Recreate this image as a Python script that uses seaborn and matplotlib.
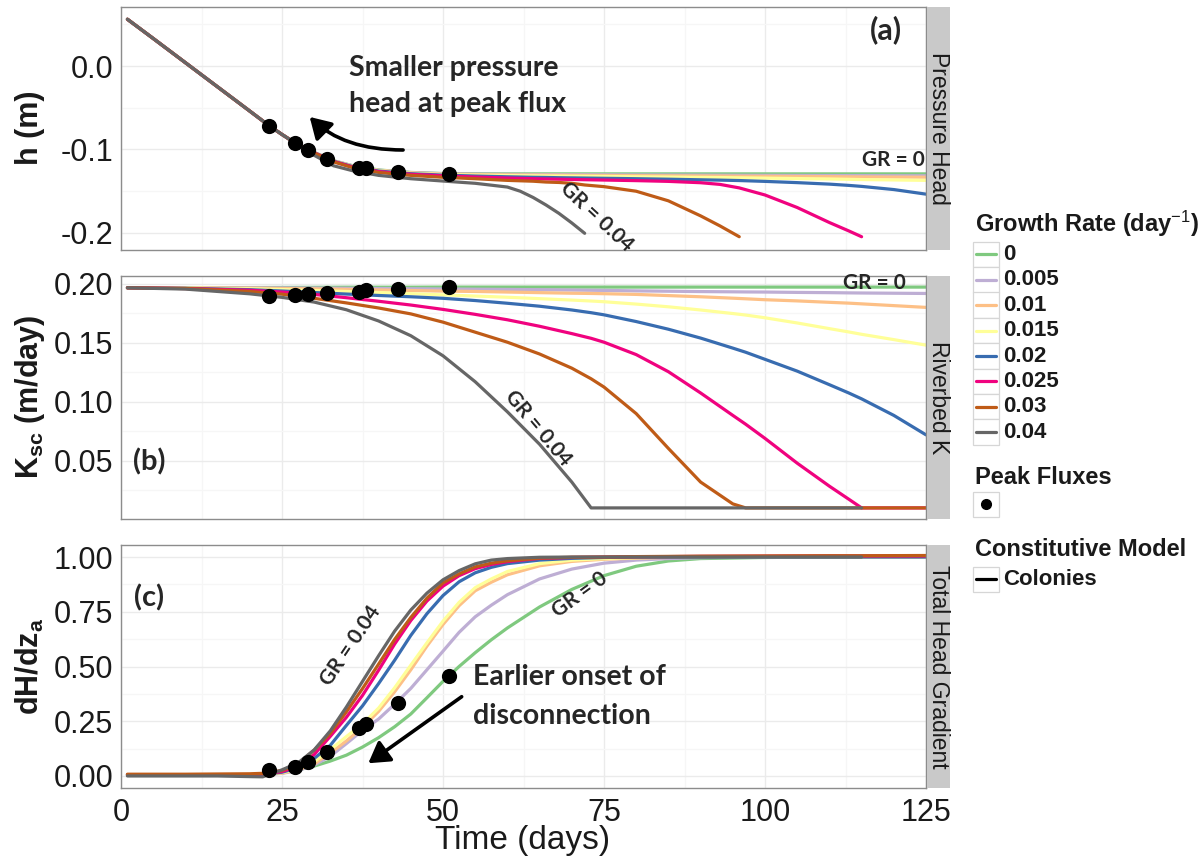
import numpy as np
import pandas as pd
import matplotlib
matplotlib.use("Agg")
import matplotlib.pyplot as plt
import seaborn as sns
from matplotlib.patches import FancyArrowPatch, Rectangle
from matplotlib.path import Path
from matplotlib.lines import Line2D
from matplotlib.ticker import FormatStrFormatter

# ---------------------------------------------------------------- data
GROWTH_RATES = ["0", "0.005", "0.01", "0.015", "0.02", "0.025", "0.03", "0.04"]
GR_COLORS = ["#7FC97F", "#BEAED4", "#FDC086", "#FFFF99",
             "#386CB0", "#F0027F", "#BF5B17", "#666666"]
NAN = np.nan

# (a) pressure head h (m)
T_A = [1, 5, 10, 15, 20, 23, 25, 27, 30, 33, 36, 40, 45, 50, 55, 60, 62, 64,
       66, 68, 70, 72, 75, 80, 85, 90, 93, 96, 100, 105, 110, 113, 115, 120, 125]
H_START = [0.056, 0.033, 0.004, -0.025, -0.054, -0.0715, -0.082, -0.092]
H_0 = H_START + [-0.1035, -0.1135, -0.1195, -0.1245, -0.1275, -0.1288, -0.1291] + [-0.1292] * 20
H_0005 = H_START + [-0.1035, -0.1135, -0.1197, -0.1248, -0.1277, -0.129, -0.1295, -0.1298,
                    -0.1299, -0.13, -0.13, -0.1301, -0.1302, -0.1302, -0.1303, -0.1305,
                    -0.1306, -0.1307, -0.1308, -0.1309, -0.131, -0.1311, -0.1312, -0.1313,
                    -0.1313, -0.1314, -0.1315]
H_001 = H_START + [-0.1035, -0.1137, -0.12, -0.125, -0.128, -0.1295, -0.13, -0.1304,
                   -0.1305, -0.1306, -0.1307, -0.1308, -0.1309, -0.131, -0.1311, -0.1313,
                   -0.1315, -0.1317, -0.1318, -0.132, -0.1321, -0.1323, -0.1325, -0.1327,
                   -0.1328, -0.133, -0.1332]
H_0015 = H_START + [-0.1037, -0.1138, -0.1202, -0.1253, -0.1284, -0.13, -0.1307, -0.1312,
                    -0.1314, -0.1315, -0.1317, -0.1318, -0.132, -0.1321, -0.1323, -0.1327,
                    -0.133, -0.1334, -0.1336, -0.1339, -0.1343, -0.1348, -0.1353, -0.1357,
                    -0.136, -0.1365, -0.137]
H_002 = H_START + [-0.1038, -0.114, -0.1205, -0.1258, -0.129, -0.1307, -0.1318, -0.1327,
                   -0.133, -0.1333, -0.1335, -0.1338, -0.134, -0.1342, -0.1345, -0.135,
                   -0.1356, -0.1363, -0.1367, -0.1372, -0.1382, -0.1397, -0.1415, -0.143,
                   -0.1442, -0.148, -0.1535]
H_0025 = H_START + [-0.104, -0.1143, -0.121, -0.1265, -0.1297, -0.1315, -0.133, -0.1342,
                    -0.1346, -0.135, -0.1353, -0.1356, -0.1359, -0.1362, -0.1366, -0.1373,
                    -0.1382, -0.1398, -0.1418, -0.146, -0.1545, -0.1695, -0.1875, -0.1975,
                    -0.2045, NAN, NAN]
H_003 = H_START + [-0.1043, -0.1148, -0.1218, -0.1275, -0.131, -0.1333, -0.135, -0.137,
                   -0.1375, -0.138, -0.139, -0.1395, -0.1405, -0.1425, -0.1445, -0.150,
                   -0.1615, -0.1795, -0.1915, -0.2045] + [NAN] * 7
H_004 = H_START + [-0.107, -0.1195, -0.1255, -0.131, -0.135, -0.1378, -0.1405, -0.145,
                   -0.150, -0.1575, -0.1665, -0.1765, -0.188, -0.2004] + [NAN] * 13

# (b) riverbed hydraulic conductivity K_sc (m/day)
T_B = [1, 10, 20, 25, 30, 35, 40, 45, 50, 55, 60, 65, 70, 73, 75, 80, 85, 90,
       95, 97, 100, 105, 110, 113, 115, 120, 125]
K_0 = [0.1966, 0.1967, 0.1968, 0.1969, 0.197, 0.1971, 0.1971, 0.1971] + [0.1972] * 19
K_0005 = [0.1966, 0.1966, 0.1966, 0.1965, 0.1964, 0.1962, 0.196, 0.1958, 0.1956, 0.1954,
          0.1952, 0.195, 0.1947, 0.1945, 0.1944, 0.194, 0.1937, 0.1934, 0.1932, 0.1931,
          0.193, 0.1927, 0.1925, 0.1923, 0.1922, 0.192, 0.1918]
K_001 = [0.1966, 0.1966, 0.1963, 0.196, 0.1957, 0.1953, 0.1948, 0.1943, 0.1938, 0.1935,
         0.193, 0.1925, 0.192, 0.1918, 0.1916, 0.191, 0.190, 0.189, 0.1878, 0.1873,
         0.1865, 0.1855, 0.1843, 0.1836, 0.183, 0.1815, 0.180]
K_0015 = [0.1966, 0.1964, 0.1958, 0.1951, 0.1943, 0.1935, 0.1926, 0.1916, 0.1906, 0.1896,
          0.1886, 0.1874, 0.1862, 0.1854, 0.1848, 0.1828, 0.1805, 0.1778, 0.1748, 0.1735,
          0.1712, 0.1668, 0.162, 0.1592, 0.1572, 0.1527, 0.148]
K_002 = [0.1966, 0.1962, 0.195, 0.1939, 0.1926, 0.1913, 0.1901, 0.189, 0.1877, 0.1858,
         0.1835, 0.181, 0.1778, 0.1755, 0.1737, 0.168, 0.1615, 0.154, 0.1455, 0.142,
         0.136, 0.126, 0.1145, 0.1075, 0.1025, 0.0885, 0.072]
K_0025 = [0.1966, 0.196, 0.1945, 0.193, 0.191, 0.1882, 0.1852, 0.182, 0.1783, 0.1741,
          0.1695, 0.164, 0.1578, 0.1538, 0.1505, 0.140, 0.1255, 0.1075, 0.0885, 0.081,
          0.069, 0.048, 0.0285, 0.0175, 0.0101, 0.0101, 0.0101]
K_003 = [0.1966, 0.196, 0.1935, 0.1912, 0.1877, 0.1838, 0.1795, 0.1745, 0.1675, 0.159,
         0.1505, 0.1405, 0.1285, 0.1195, 0.1125, 0.090, 0.0605, 0.032, 0.0135, 0.0101] + [0.0101] * 7
K_004 = [0.1966, 0.1955, 0.1915, 0.1885, 0.1845, 0.178, 0.1685, 0.156, 0.139, 0.117,
         0.0915, 0.064, 0.032, 0.0101] + [0.0101] * 11 + [NAN, NAN]

# (c) total head gradient dH/dz_a
T_C = [1, 10, 15, 20, 22, 25, 27.5, 30, 32.5, 35, 37.5, 40, 42.5, 45, 47.5, 50, 52.5,
       55, 57.5, 60, 65, 70, 75, 80, 85, 90, 100, 110, 115, 125]
G_0 = [0.005, 0.005, 0.005, 0.006, 0.008, 0.015, 0.028, 0.045, 0.068, 0.095, 0.132,
       0.175, 0.225, 0.283, 0.357, 0.432, 0.5, 0.563, 0.622, 0.676, 0.772, 0.852, 0.915,
       0.958, 0.982, 0.993, 0.998, 1.0, 1.0, 1.0]
G_0005 = [0.005, 0.005, 0.005, 0.005, 0.006, 0.012, 0.025, 0.05, 0.09, 0.148, 0.208,
          0.26, 0.328, 0.4, 0.485, 0.57, 0.656, 0.727, 0.78, 0.828, 0.9, 0.945, 0.972,
          0.986, 0.993, 0.997, 1.0, 1.0, 1.0, 1.0]
G_001 = [0.005, 0.005, 0.005, 0.005, 0.006, 0.013, 0.028, 0.055, 0.105, 0.16, 0.222,
         0.295, 0.385, 0.485, 0.593, 0.692, 0.778, 0.846, 0.885, 0.919, 0.96, 0.98,
         0.99, 0.995, 0.998, 1.0, 1.0, 1.0, 1.0, 1.0]
G_0015 = [0.005, 0.005, 0.005, 0.005, 0.006, 0.015, 0.032, 0.065, 0.12, 0.18, 0.237,
          0.31, 0.403, 0.506, 0.608, 0.707, 0.793, 0.86, 0.9, 0.934, 0.97, 0.986,
          0.993, 0.997, 0.999, 1.0, 1.0, 1.0, 1.0, 1.0]
G_002 = [0.005, 0.005, 0.005, 0.005, 0.007, 0.017, 0.038, 0.08, 0.14, 0.231, 0.32,
         0.422, 0.529, 0.642, 0.741, 0.824, 0.887, 0.928, 0.953, 0.97, 0.986, 0.994,
         0.998, 1.0, 1.0, 1.0, 1.0, 1.0, 1.0, 1.0]
G_0025 = [0.005, 0.005, 0.005, 0.006, 0.008, 0.02, 0.045, 0.098, 0.181, 0.268, 0.368,
          0.483, 0.603, 0.71, 0.799, 0.867, 0.915, 0.947, 0.966, 0.979, 0.994, 0.998,
          1.0, 1.001, 1.002, 1.003, 1.004, 1.005, 1.005, 1.005]
G_003 = [0.008, 0.008, 0.009, 0.01, 0.012, 0.025, 0.055, 0.118, 0.195, 0.293, 0.399,
         0.511, 0.624, 0.724, 0.812, 0.882, 0.923, 0.955, 0.972, 0.983, 0.995, 0.999,
         1.0, 1.002, 1.003, 1.004, 1.005, 1.006, 1.006, 1.007]
G_004 = [0.0, 0.0, 0.0, -0.003, -0.004, 0.028, 0.06, 0.119, 0.206, 0.315, 0.432,
         0.549, 0.662, 0.758, 0.835, 0.896, 0.938, 0.969, 0.986, 0.993, 0.999, 1.0,
         1.0, 1.0, 1.0, 1.0, 1.0, 1.0, 1.0, NAN]

# peak-flux markers (one per growth rate, 0.04 ... 0)
PEAK_T = [23, 27, 29, 32, 37, 38, 43, 51]
PEAK_H = [-0.0715, -0.092, -0.1006, -0.1118, -0.1218, -0.1226, -0.1266, -0.1288]
PEAK_K = [0.1893, 0.1906, 0.1916, 0.1924, 0.1932, 0.1948, 0.1958, 0.1972]
PEAK_G = [0.027, 0.040, 0.065, 0.111, 0.218, 0.237, 0.333, 0.458]

PANEL_STRIPS = ["Pressure Head", "Riverbed K", "Total Head Gradient"]
X_TICKS = [0, 25, 50, 75, 100, 125]


def long_frame(times, series):
    rows = []
    for gr, vals in zip(GROWTH_RATES, series):
        for t, v in zip(times, vals):
            if not np.isnan(v):
                rows.append((t, v, gr))
    return pd.DataFrame(rows, columns=["time", "value", "gr"])


DF_A = long_frame(T_A, [H_0, H_0005, H_001, H_0015, H_002, H_0025, H_003, H_004])
DF_B = long_frame(T_B, [K_0, K_0005, K_001, K_0015, K_002, K_0025, K_003, K_004])
DF_C = long_frame(T_C, [G_0, G_0005, G_001, G_0015, G_002, G_0025, G_003, G_004])

# ---------------------------------------------------------------- style
sns.set_style("white")
plt.rcParams["font.family"] = ["Liberation Sans", "DejaVu Sans"]
plt.rcParams["axes.unicode_minus"] = False
plt.rcParams["mathtext.fontset"] = "custom"
plt.rcParams["mathtext.rm"] = "Liberation Sans"
plt.rcParams["mathtext.bf"] = "Liberation Sans:bold"
plt.rcParams["mathtext.it"] = "Liberation Sans:italic"
plt.rcParams["lines.solid_joinstyle"] = "round"

W, H = 1198, 860
fig = plt.figure(figsize=(W / 100, H / 100), dpi=100)
fig.patch.set_facecolor("white")


def rect(l, t, r, b):
    return [l / W, 1 - b / H, (r - l) / W, (b - t) / H]


def fx(x):
    return x / W


def fy(y):
    return 1 - y / H


ANNOT_FONT = ["Lato", "DejaVu Sans"]
TEXT_COLOR = "#1A1A1A"

panel_boxes = [(7, 250), (276, 519), (545, 788)]
ylims = [(-0.2204, 0.0707), (0.0007, 0.2066), (-0.055, 1.055)]
yticks = [[-0.2, -0.1, 0.0], [0.05, 0.10, 0.15, 0.20], [0.0, 0.25, 0.5, 0.75, 1.0]]
ymins = [[-0.15, -0.05, 0.05], [0.025, 0.075, 0.125, 0.175], [0.125, 0.375, 0.625, 0.875]]
yfmt = ["%.1f", "%.2f", "%.2f"]
frames = [DF_A, DF_B, DF_C]
peaks = [PEAK_H, PEAK_K, PEAK_G]

axes = []
for i, (top, bot) in enumerate(panel_boxes):
    ax = fig.add_axes(rect(121, top, 926, bot))
    sns.lineplot(data=frames[i], x="time", y="value", hue="gr", hue_order=GROWTH_RATES,
                 palette=GR_COLORS, estimator=None, sort=False, lw=2.3,
                 legend=False, ax=ax)
    sns.scatterplot(x=PEAK_T, y=peaks[i], color="black", s=120, linewidth=0,
                    legend=False, ax=ax, zorder=6)
    ax.set_xlim(0, 125)
    ax.set_ylim(*ylims[i])
    ax.set_xticks(X_TICKS)
    ax.set_xticks([12.5, 37.5, 62.5, 87.5, 112.5], minor=True)
    ax.set_yticks(yticks[i])
    ax.set_yticks(ymins[i], minor=True)
    ax.yaxis.set_major_formatter(FormatStrFormatter(yfmt[i]))
    ax.grid(which="major", color="#EBEBEB", lw=1.0)
    ax.grid(which="minor", color="#F6F6F6", lw=0.9)
    ax.set_axisbelow(True)
    for sp in ax.spines.values():
        sp.set_color("#8C8C8C")
        sp.set_linewidth(1.0)
    ax.tick_params(which="major", direction="out", length=3.5, width=1,
                   color="#4D4D4D", labelsize=22, labelcolor=TEXT_COLOR)
    ax.tick_params(axis="y", pad=2)
    ax.tick_params(axis="x", pad=4)
    ax.tick_params(which="minor", length=0)
    ax.set_xlabel("")
    ax.set_ylabel("")
    if i < 2:
        ax.tick_params(axis="x", which="both", length=0, labelbottom=False)
    # facet strip on the right
    sax = fig.add_axes(rect(927, top, 950, bot))
    sax.set_facecolor("#C9C9C9")
    sax.set_xticks([])
    sax.set_yticks([])
    for sp in sax.spines.values():
        sp.set_visible(False)
    sax.text(0.5, 0.5, PANEL_STRIPS[i], rotation=-90, ha="center", va="center",
             fontsize=16.5, color=TEXT_COLOR, transform=sax.transAxes)
    axes.append(ax)

ax_a, ax_b, ax_c = axes

# axis titles
fig.text(fx(30), fy(128), "h (m)", rotation=90, ha="center", va="center",
         fontsize=22, fontweight="bold", color=TEXT_COLOR)
fig.text(fx(30), fy(397), r"$\mathbf{K_{sc}\ (m/day)}$", rotation=90, ha="center",
         va="center", fontsize=22, color=TEXT_COLOR)
fig.text(fx(30), fy(666), r"$\mathbf{dH/dz_{a}}$", rotation=90, ha="center",
         va="center", fontsize=22, color=TEXT_COLOR)
fig.text(fx(523), fy(840), "Time (days)", ha="center", va="center", fontsize=24,
         color=TEXT_COLOR)

# panel (a) annotations
ax_a.text(118.8, 0.043, "(a)", ha="center", va="center", fontsize=22,
          fontweight="bold", family=ANNOT_FONT)
ax_a.text(35.4, -0.0024, "Smaller pressure", ha="left", va="center", fontsize=20.5,
          fontweight="bold", family=ANNOT_FONT)
ax_a.text(35.4, -0.0455, "head at peak flux", ha="left", va="center", fontsize=20.5,
          fontweight="bold", family=ANNOT_FONT)
ax_a.text(119.9, -0.1126, "GR = 0", ha="center", va="center", fontsize=15,
          fontweight="bold", family=ANNOT_FONT)
ax_a.text(73.9, -0.181, "GR = 0.04", ha="center", va="center", fontsize=15,
          fontweight="bold", family=ANNOT_FONT, rotation=-43)
curve = Path([(43.8, -0.1006), (34.5, -0.1006), (29.3, -0.061)],
             [Path.MOVETO, Path.CURVE3, Path.CURVE3])
ax_a.add_patch(FancyArrowPatch(path=curve, arrowstyle="-|>,head_length=0.5,head_width=0.3",
                               mutation_scale=25, lw=2.6, color="black",
                               shrinkA=0, shrinkB=0, zorder=7))

# panel (b) annotations
ax_b.text(1.9, 0.049, "(b)", ha="left", va="center", fontsize=21,
          fontweight="bold", family=ANNOT_FONT)
ax_b.text(117, 0.2008, "GR = 0", ha="center", va="center", fontsize=15,
          fontweight="bold", family=ANNOT_FONT)
ax_b.text(64.8, 0.078, "GR = 0.04", ha="center", va="center", fontsize=15,
          fontweight="bold", family=ANNOT_FONT, rotation=-50)

# panel (c) annotations
ax_c.text(2.0, 0.813, "(c)", ha="left", va="center", fontsize=21,
          fontweight="bold", family=ANNOT_FONT)
ax_c.text(35.6, 0.595, "GR = 0.04", ha="center", va="center", fontsize=15,
          fontweight="bold", family=ANNOT_FONT, rotation=56)
ax_c.text(71.3, 0.826, "GR = 0", ha="center", va="center", fontsize=15,
          fontweight="bold", family=ANNOT_FONT, rotation=36)
ax_c.text(54.7, 0.452, "Earlier onset of", ha="left", va="center", fontsize=20.5,
          fontweight="bold", family=ANNOT_FONT)
ax_c.text(54.7, 0.274, "disconnection", ha="left", va="center", fontsize=20.5,
          fontweight="bold", family=ANNOT_FONT)
ax_c.annotate("", xy=(38.4, 0.058), xytext=(52.9, 0.362),
              arrowprops=dict(arrowstyle="-|>,head_length=0.5,head_width=0.3",
                              mutation_scale=25, lw=2.6, color="black",
                              shrinkA=0, shrinkB=0), zorder=7)

# ---------------------------------------------------------------- legend
KEY_L, KEY_W, KEY_H = 973, 26, 25.4
LBL_X = 1003


def key_box(y_top):
    fig.patches.append(Rectangle((fx(KEY_L), fy(y_top + KEY_H)), KEY_W / W, KEY_H / H,
                                 transform=fig.transFigure, facecolor="white",
                                 edgecolor="#D6D6D6", lw=0.9))


fig.text(fx(975), fy(224), r"Growth Rate (day$^{-1}$)", ha="left", va="center",
         fontsize=17, fontweight="bold", color=TEXT_COLOR)
for k, (gr, col) in enumerate(zip(GROWTH_RATES, GR_COLORS)):
    y0 = 241.7 + k * KEY_H
    key_box(y0)
    yc = fy(y0 + KEY_H / 2)
    fig.lines.append(Line2D([fx(KEY_L + 3), fx(KEY_L + KEY_W - 3)], [yc, yc],
                            transform=fig.transFigure, color=col, lw=2.3))
    fig.text(fx(LBL_X), yc, gr, ha="left", va="center", fontsize=16,
             fontweight="bold", color=TEXT_COLOR)

fig.text(fx(975), fy(477), "Peak Fluxes", ha="left", va="center", fontsize=17,
         fontweight="bold", color=TEXT_COLOR)
key_box(491.7)
fig.lines.append(Line2D([fx(KEY_L + KEY_W / 2)], [fy(491.7 + KEY_H / 2)],
                        transform=fig.transFigure, marker="o", color="black",
                        markersize=7, lw=0))

fig.text(fx(975), fy(550), "Constitutive Model", ha="left", va="center", fontsize=17,
         fontweight="bold", color=TEXT_COLOR)
key_box(566.5)
yc = fy(566.5 + KEY_H / 2)
fig.lines.append(Line2D([fx(KEY_L + 3), fx(KEY_L + KEY_W - 3)], [yc, yc],
                        transform=fig.transFigure, color="black", lw=2.3))
fig.text(fx(LBL_X), yc, "Colonies", ha="left", va="center", fontsize=16,
         fontweight="bold", color=TEXT_COLOR)

fig.savefig("out.png", dpi=100, facecolor="white")
